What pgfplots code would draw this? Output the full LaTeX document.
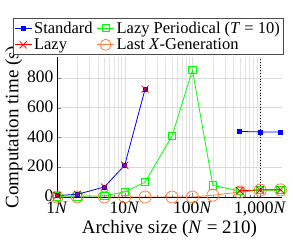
\documentclass[border=0pt]{standalone}
\usepackage{pgfplots}
\pgfplotsset{compat=1.18}
\usepackage{fontspec}
\setmainfont{Liberation Serif}
\definecolor{cblue}{RGB}{0,0,255}
\definecolor{cgreen}{RGB}{0,255,0}
\definecolor{cred}{RGB}{255,0,0}
\definecolor{corange}{RGB}{255,128,64}
\begin{document}
\begin{tikzpicture}
\begin{axis}[
  name=ax,
  scale only axis, width=225pt, height=140pt,
  xmode=log, xmin=1, xmax=2100, ymin=0, ymax=940,
  axis x line*=bottom, axis y line*=left,
  tick align=inside,
  major tick length=4pt, minor tick length=2pt,
  xtick={1,10,100,1000},
  xticklabels={1\textit{N},10\textit{N},100\textit{N},{1,000\textit{N}}},
  ytick={0,200,400,600,800},
  minor y tick num=0,
  xmajorgrids, xminorgrids, ymajorgrids,
  major grid style={gray!28, line width=0.4pt},
  minor grid style={gray!22, line width=0.4pt},
  tick label style={font=\fontsize{17.5}{17.5}\selectfont},
  xticklabel style={yshift=-1.5pt},
  yticklabel style={yshift=1pt},
  label style={font=\fontsize{19}{19}\selectfont},
  xlabel={Archive size (\textit{N} = 210)},
  ylabel={Computation time (s)},
  xlabel style={yshift=3pt},
  ylabel style={yshift=-2pt},
  legend columns=2,
  legend cell align=left,
  legend style={at={(1.005,1.02)}, anchor=south east,
    font=\fontsize{16.5}{17}\selectfont, draw=black!70,
    inner sep=1pt,
    /tikz/every even column/.append style={column sep=2pt}},
  clip mode=individual,
  /pgf/number format/assume math mode=true,
]
\addlegendimage{cblue, mark=square*, mark size=1.8pt, line width=0.8pt}
\addlegendentry{Standard}
\addlegendimage{cgreen, mark=square, mark size=3.5pt, line width=0.8pt}
\addlegendentry{Lazy Periodical (\textit{T} = 10)}
\addlegendimage{cred, mark=x, mark size=5pt, line width=0.8pt}
\addlegendentry{Lazy}
\addlegendimage{corange, mark=o, mark size=5.5pt, line width=0.8pt}
\addlegendentry{Last \textit{X}-Generation}

\draw[black, dotted, line width=0.8pt] (axis cs:1000,0) -- (axis cs:1000,940);

% Last X-Generation
\addplot[corange, mark=o, mark size=6pt, line width=0.8pt, forget plot] coordinates {
 (1,0) (2,0) (5,0) (10,0) (20,0) (50,0) (100,0) (200,12) (500,33) (1000,46) (2000,48)};
% Lazy Periodical
\addplot[cgreen, mark=square, mark size=3.7pt, line width=0.8pt, forget plot] coordinates {
 (1,5) (2,5) (5,8) (10,34) (20,100) (50,410) (100,852) (200,78) (500,40) (1000,46) (2000,46)};
% Standard
\addplot[cblue, mark=square*, mark size=2pt, line width=0.8pt, forget plot] coordinates {
 (1,10) (2,18) (5,67) (10,213) (20,725)};
\addplot[cblue, mark=square*, mark size=2pt, line width=0.8pt, forget plot] coordinates {
 (500,440) (1000,437) (2000,437)};
% Lazy
\addplot[cred, mark=x, mark size=5pt, line width=0.8pt, only marks, forget plot] coordinates {
 (1,10) (2,18) (5,67) (10,213) (20,725)};
\addplot[cred, mark=x, mark size=5pt, line width=0.8pt, forget plot] coordinates {
 (500,42) (1000,48) (2000,48)};
\end{axis}
\path (ax.south west) ++(-57pt,-49pt) rectangle ++(293pt,246pt);
\end{tikzpicture}
\end{document}
